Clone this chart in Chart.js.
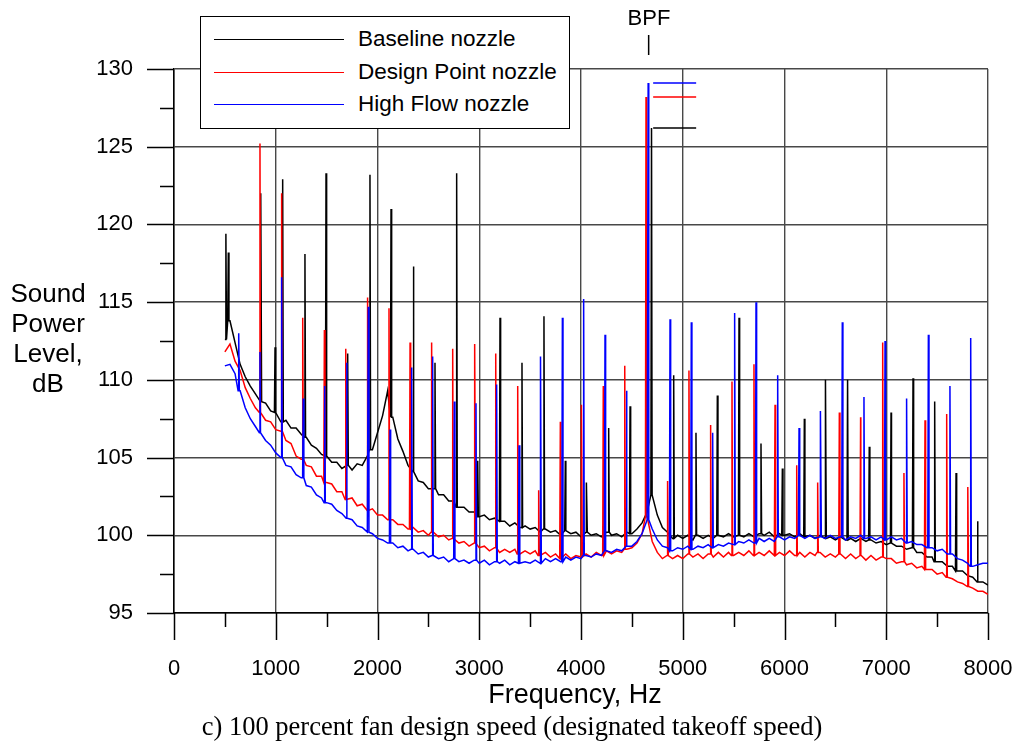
<!DOCTYPE html>
<html>
<head>
<meta charset="utf-8">
<script src="https://cdn.jsdelivr.net/npm/chart.js@4.4.1/dist/chart.umd.min.js"></script>
<style>
  html, body { margin: 0; padding: 0; background: #fff; }
  #wrap { position: relative; width: 1019px; height: 745px; font-family: "Liberation Sans", Arial, sans-serif; color: #000; overflow: hidden; }
  #wrap canvas { position: absolute; left: 0; top: 0; }
  .lbl { position: absolute; white-space: nowrap; line-height: 1; transform: translate(-50%, -50%); }
  #legend { position: absolute; left: 200px; top: 16px; width: 368px; height: 111px; border: 1px solid #000; background: #fff; }
  #legend .sample { position: absolute; left: 13px; width: 130px; height: 0; border-top: 1.4px solid #000; }
  #legend .text { position: absolute; left: 157px; font-size: 22.5px; line-height: 1; transform: translateY(-50%); white-space: nowrap; }
  #ytitle { position: absolute; left: 0; top: 278px; width: 96px; text-align: center; font-size: 26px; line-height: 30px; }
</style>
</head>
<body>
<div id="wrap">
  <canvas id="spectrumChart" width="1019" height="745"></canvas>
  <div id="legend"></div>
  <div id="ytitle">Sound<br>Power<br>Level,<br>dB</div>
  <div class="lbl" style="left:575px; top:694px; font-size:27px;">Frequency, Hz</div>
  <div class="lbl" style="left:512px; top:726px; font-size:26.5px; font-family:'Liberation Serif','Times New Roman',serif;">c) 100 percent fan design speed (designated takeoff speed)</div>
  <div class="lbl" style="left:649px; top:18px; font-size:22px;">BPF</div>
</div>
<script>
// broadband levels, dB, sampled every 50 Hz from 500 to 8000 Hz
const bandStartHz = 500;
const bandStepHz = 50;

const baselineBand = [
  112.6, 113.8, 112.4, 111.0, 110.2, 109.6, 109.1, 108.6, 108.5, 108.0,
  107.9, 107.3, 107.4, 106.9, 106.9, 106.5, 106.3, 105.8, 105.6, 105.2,
  105.1, 104.7, 104.7, 104.3, 104.5, 104.2, 104.6, 104.5, 105.1, 105.5,
  106.6, 107.7, 109.3, 107.6, 106.2, 105.4, 104.5, 104.1, 103.5, 103.4,
  103.0, 103.0, 102.6, 102.6, 102.2, 102.2, 101.8, 101.8, 101.5, 101.5,
  101.2, 101.3, 101.0, 101.1, 100.9, 100.9, 100.6, 100.8, 100.5, 100.6,
  100.4, 100.5, 100.2, 100.4, 100.2, 100.3, 100.0, 100.3, 100.1, 100.2,
  99.9, 100.2, 100.0, 100.1, 99.9, 100.2, 100.0, 100.1, 99.9, 100.2,
  100.1, 100.4, 100.8, 101.5, 102.6, 101.3, 100.5, 100.2, 99.8, 100.0,
  99.8, 100.0, 99.7, 100.0, 99.8, 100.0, 99.8, 100.0, 99.9, 100.1,
  99.9, 100.0, 99.9, 100.1, 99.9, 100.1, 100.0, 100.2, 99.9, 100.1,
  100.0, 100.1, 99.9, 100.1, 99.9, 100.0, 99.8, 100.0, 99.8, 99.9,
  99.7, 99.9, 99.7, 99.8, 99.6, 99.8, 99.6, 99.7, 99.5, 99.6,
  99.4, 99.5, 99.3, 99.3, 99.1, 99.2, 98.9, 98.9, 98.6, 98.6,
  98.3, 98.3, 98.0, 98.0, 97.7, 97.7, 97.4, 97.3, 97.0, 97.0,
  96.8
];

const designBand = [
  111.8, 112.3, 111.2, 110.6, 109.5, 108.8, 108.2, 107.9, 107.4, 107.3,
  106.8, 106.7, 106.1, 105.9, 105.1, 104.9, 104.5, 104.4, 103.8, 103.8,
  103.4, 103.3, 102.8, 102.8, 102.3, 102.4, 101.9, 102.0, 101.6, 101.7,
  101.3, 101.3, 101.0, 101.0, 100.7, 100.7, 100.4, 100.5, 100.2, 100.3,
  100.0, 100.2, 99.9, 100.0, 99.7, 99.8, 99.5, 99.6, 99.3, 99.5,
  99.2, 99.3, 99.0, 99.2, 98.9, 99.1, 98.9, 99.1, 98.8, 99.0,
  98.8, 99.0, 98.7, 98.9, 98.6, 98.8, 98.5, 98.8, 98.5, 98.7,
  98.6, 98.8, 98.6, 98.9, 98.7, 99.0, 98.8, 99.0, 98.9, 99.1,
  99.2, 99.5, 100.1, 101.2, 99.6, 98.9, 98.5, 98.7, 98.5, 98.7,
  98.5, 98.8, 98.6, 98.8, 98.5, 98.8, 98.6, 98.9, 98.6, 98.9,
  98.7, 98.9, 98.7, 99.0, 98.7, 98.9, 98.7, 99.0, 98.7, 98.9,
  98.7, 99.0, 98.7, 98.9, 98.6, 98.9, 98.7, 98.9, 98.6, 98.8,
  98.6, 98.8, 98.5, 98.8, 98.5, 98.7, 98.4, 98.7, 98.4, 98.6,
  98.5, 98.5, 98.2, 98.3, 98.1, 98.2, 97.9, 98.0, 97.8, 97.8,
  97.5, 97.6, 97.3, 97.2, 97.0, 96.9, 96.7, 96.6, 96.4, 96.4,
  96.2
];

const highFlowBand = [
  110.9, 111.0, 110.4, 109.3, 108.2, 107.5, 107.0, 106.6, 106.1, 105.8,
  105.3, 105.0, 104.5, 104.4, 103.9, 103.7, 103.2, 103.1, 102.6, 102.4,
  102.1, 102.0, 101.6, 101.4, 101.1, 101.0, 100.6, 100.5, 100.2, 100.1,
  99.8, 99.7, 99.5, 99.5, 99.2, 99.3, 99.0, 99.1, 98.8, 98.9,
  98.6, 98.7, 98.5, 98.6, 98.3, 98.5, 98.3, 98.4, 98.2, 98.4,
  98.2, 98.4, 98.1, 98.3, 98.2, 98.4, 98.1, 98.3, 98.2, 98.3,
  98.2, 98.4, 98.2, 98.5, 98.3, 98.5, 98.3, 98.6, 98.4, 98.6,
  98.5, 98.7, 98.6, 98.8, 98.7, 99.0, 98.9, 99.1, 99.0, 99.3,
  99.3, 99.6, 100.1, 101.0, 100.4, 99.7, 99.3, 99.2, 99.0, 99.2,
  99.1, 99.3, 99.1, 99.3, 99.2, 99.4, 99.2, 99.4, 99.3, 99.5,
  99.4, 99.6, 99.5, 99.7, 99.5, 99.8, 99.6, 99.8, 99.6, 99.9,
  99.7, 99.9, 99.8, 100.0, 99.8, 100.0, 99.8, 99.9, 99.8, 100.0,
  99.8, 99.9, 99.7, 99.9, 99.8, 100.0, 99.8, 99.9, 99.7, 99.9,
  99.7, 99.9, 99.7, 99.8, 99.5, 99.6, 99.4, 99.4, 99.2, 99.2,
  99.0, 99.1, 98.8, 98.8, 98.5, 98.4, 98.2, 98.0, 98.1, 98.2,
  98.2
];

// tones: [frequency Hz, peak level dB]
const baselineTones = [
  [510, 119.4], [534, 118.2], [855, 122.0], [993, 112.1], [1068, 122.9], [1287, 118.1],
  [1494, 123.3], [1707, 111.7], [1926, 123.2], [2133, 121.0], [2352, 117.3], [2565, 111.1],
  [2778, 123.3], [2985, 104.8], [3204, 114.0], [3420, 111.1], [3636, 114.1], [3846, 104.8],
  [4056, 103.4], [4272, 106.9], [4482, 108.3], [4693, 126.2], [4911, 110.3], [5130, 106.6],
  [5340, 109.0], [5553, 114.0], [5769, 105.9], [5979, 104.3], [6195, 107.5], [6405, 110.0],
  [6620, 110.0], [6833, 105.7], [7047, 107.9], [7263, 110.1], [7476, 108.6], [7686, 104.0],
  [7899, 100.9]
];

const designTones = [
  [845, 125.2], [1058, 122.0], [1265, 114.0], [1478, 113.2], [1688, 112.0], [1905, 115.3],
  [2113, 114.6], [2320, 112.4], [2532, 112.4], [2739, 112.0], [2958, 112.3], [3162, 111.7],
  [3378, 109.6], [3584, 102.9], [3797, 107.3], [4007, 108.4], [4219, 109.6], [4430, 110.9],
  [4639, 128.2], [4852, 103.5], [5061, 110.6], [5274, 107.1], [5484, 109.9], [5700, 111.0],
  [5907, 108.4], [6120, 104.5], [6326, 103.4], [6539, 107.9], [6748, 107.6], [6965, 112.4],
  [7174, 104.0], [7381, 107.4], [7594, 107.8], [7803, 103.1]
];

const highFlowTones = [
  [636, 113.0], [845, 111.8], [1058, 116.6], [1270, 108.8], [1481, 109.6], [1698, 111.1],
  [1910, 114.7], [2123, 106.8], [2336, 110.8], [2542, 111.5], [2755, 108.6], [2968, 108.5],
  [3171, 109.7], [3391, 105.8], [3604, 111.5], [3817, 114.0], [4026, 115.2], [4236, 112.9],
  [4449, 109.3], [4660, 129.1], [4875, 113.9], [5084, 113.7], [5294, 106.6], [5510, 114.3],
  [5720, 115.0], [5933, 110.3], [6143, 106.9], [6356, 108.0], [6568, 113.7], [6781, 108.9],
  [6988, 112.5], [7200, 108.8], [7414, 112.9], [7626, 109.6], [7830, 112.7]
];

const seriesNames = ['Baseline nozzle', 'Design Point nozzle', 'High Flow nozzle'];
const seriesColors = ['#000000', '#ff0000', '#0000ff'];
const bpfHz = 4660;

const xTicks = { min: 0, max: 8000, step: 1000, minor: 500 };
const yTicks = { min: 95, max: 130, step: 5, minor: 2.5 };

// broadband points plus a narrow spike for every tone
function buildSeries(band, tones) {
  const pts = band.map((v, i) => ({ x: bandStartHz + i * bandStepHz, y: v }));
  tones.forEach(([f, peak]) => {
    const idx = Math.min(band.length - 1, Math.max(0, Math.round((f - bandStartHz) / bandStepHz)));
    const base = band[idx];
    pts.push({ x: f - 6, y: base }, { x: f, y: peak }, { x: f + 6, y: base });
  });
  pts.sort((a, b) => a.x - b.x);
  return pts;
}

const allTones = [baselineTones, designTones, highFlowTones];

// legend
const legendEl = document.getElementById('legend');
[22, 55, 87].forEach((top, i) => {
  const line = document.createElement('div');
  line.className = 'sample';
  line.style.top = top + 'px';
  line.style.borderTopColor = seriesColors[i];
  legendEl.appendChild(line);
  const txt = document.createElement('div');
  txt.className = 'text';
  txt.style.top = top + 'px';
  txt.textContent = seriesNames[i];
  legendEl.appendChild(txt);
});

// tick marks, BPF pointer and peak level markers
const extrasPlugin = {
  id: 'extras',
  afterDraw(chart) {
    const ctx = chart.ctx;
    const xs = chart.scales.x, ys = chart.scales.y;
    const left = chart.chartArea.left, bottom = chart.chartArea.bottom;
    ctx.save();
    ctx.strokeStyle = '#000';
    ctx.lineWidth = 1.5;
    ctx.beginPath();
    for (let v = yTicks.min; v <= yTicks.max + 0.01; v += yTicks.minor) {
      const py = Math.round(ys.getPixelForValue(v)) + 0.5;
      const major = Math.abs(v / yTicks.step - Math.round(v / yTicks.step)) < 0.01;
      ctx.moveTo(left - (major ? 27 : 14), py);
      ctx.lineTo(left, py);
    }
    for (let v = xTicks.min; v <= xTicks.max; v += xTicks.minor) {
      const px = Math.round(xs.getPixelForValue(v)) + 0.5;
      const major = v % xTicks.step === 0;
      ctx.moveTo(px, bottom);
      ctx.lineTo(px, bottom + (major ? 27 : 14));
    }
    ctx.stroke();

    // BPF pointer
    const bx = xs.getPixelForValue(bpfHz);
    ctx.beginPath();
    ctx.moveTo(bx + 0.5, 35);
    ctx.lineTo(bx + 0.5, 55);
    ctx.stroke();

    // peak level markers next to BPF
    ctx.lineWidth = 1.4;
    allTones.forEach((tones, i) => {
      let best = tones[0];
      tones.forEach(t => { if (Math.abs(t[0] - bpfHz) < Math.abs(best[0] - bpfHz)) best = t; });
      const py = ys.getPixelForValue(best[1]);
      ctx.strokeStyle = seriesColors[i];
      ctx.beginPath();
      ctx.moveTo(bx + 5, py);
      ctx.lineTo(bx + 48, py);
      ctx.stroke();
    });
    ctx.restore();
  }
};

const tickFont = { family: "'Liberation Sans', Arial, sans-serif", size: 22 };
const gridColor = '#484848';

const config = {
  type: 'scatter',
  data: {
    datasets: [0, 1, 2].map(i => ({
      label: seriesNames[i],
      data: buildSeries([baselineBand, designBand, highFlowBand][i], allTones[i]),
      borderColor: seriesColors[i],
      backgroundColor: seriesColors[i],
      showLine: true,
      borderWidth: 1.5,
      pointRadius: 0,
      tension: 0,
      fill: false,
      order: 3 - i
    }))
  },
  options: {
    responsive: false,
    animation: false,
    layout: { padding: { left: 0, top: 69, right: 31, bottom: 0 } },
    plugins: { legend: { display: false }, tooltip: { enabled: false } },
    scales: {
      x: {
        type: 'linear',
        min: xTicks.min,
        max: xTicks.max,
        ticks: {
          stepSize: xTicks.step, font: tickFont, color: '#000', padding: 43, maxRotation: 0, autoSkip: false,
          callback: v => String(v)
        },
        grid: { drawTicks: false, color: gridColor, lineWidth: 1.4 },
        border: { color: '#000', width: 1.5 },
        afterFit(s) { s.height = 132; s.paddingLeft = 0; s.paddingRight = 0; }
      },
      y: {
        type: 'linear',
        min: yTicks.min,
        max: yTicks.max,
        ticks: { stepSize: yTicks.step, font: tickFont, color: '#000', padding: 41, callback: v => String(v) },
        grid: { drawTicks: false, color: gridColor, lineWidth: 1.4 },
        border: { color: '#000', width: 1.5 },
        afterFit(s) { s.width = 174; s.paddingTop = 0; s.paddingBottom = 0; }
      }
    }
  },
  plugins: [extrasPlugin]
};

const spectrumChart = new Chart(document.getElementById('spectrumChart'), config);
</script>
</body>
</html>
